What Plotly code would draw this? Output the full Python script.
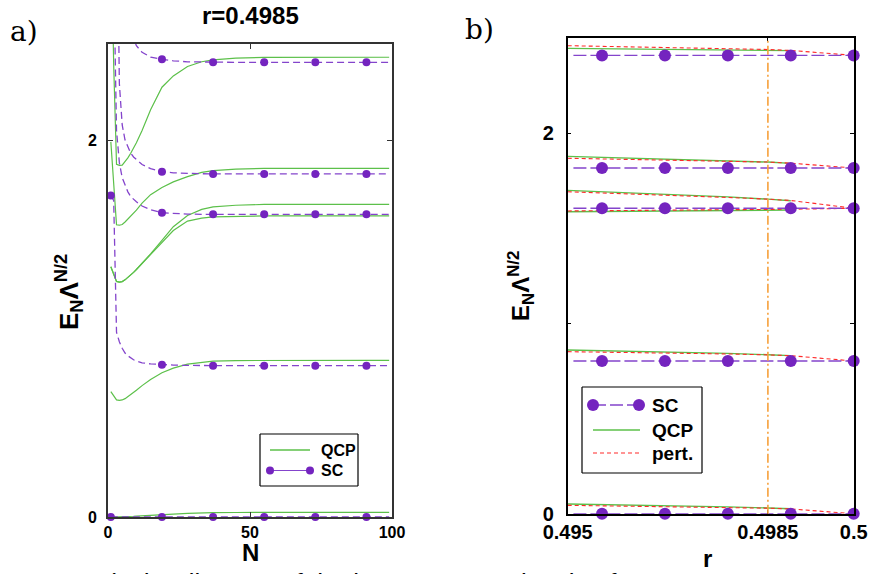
import plotly.graph_objects as go

W, H = 869, 574

# ---------------------------------------------------------------- data
r_c = 0.4985

# panel a: rescaled many-particle levels E_N Λ^{N/2} versus iteration N (r = r_c)
N_a = [1, 2, 3, 4, 5, 6, 7, 8, 9, 10, 12, 15, 19, 23, 28, 33, 37, 45, 55, 65, 73, 82, 91, 99]
N_marked = [1, 19, 37, 55, 73, 91]

sc_a0 = [0.000, 0.000, 0.000, 0.000, 0.000, 0.000, 0.000, 0.000, 0.000, 0.000, 0.000, 0.000,
         0.000, 0.000, 0.000, 0.000, 0.000, 0.000, 0.000, 0.000, 0.000, 0.000, 0.000, 0.000]
sc_a1 = [1.705, 1.680, 0.980, 0.930, 0.895, 0.870, 0.855, 0.843, 0.834, 0.827, 0.818, 0.812,
         0.808, 0.806, 0.804, 0.803, 0.803, 0.803, 0.803, 0.803, 0.803, 0.803, 0.803, 0.803]
sc_a2 = [5.000, 2.900, 2.050, 1.880, 1.800, 1.760, 1.725, 1.700, 1.685, 1.672, 1.650, 1.630,
         1.614, 1.610, 1.607, 1.606, 1.606, 1.606, 1.606, 1.606, 1.606, 1.606, 1.606, 1.606]
sc_a3 = [6.000, 5.000, 3.500, 2.300, 2.080, 2.000, 1.960, 1.930, 1.910, 1.895, 1.870, 1.848,
         1.832, 1.826, 1.822, 1.821, 1.820, 1.820, 1.820, 1.820, 1.820, 1.820, 1.820, 1.820]
sc_a4 = [8.000, 7.000, 6.000, 5.000, 4.000, 3.500, 3.000, 2.620, 2.540, 2.500, 2.465, 2.440,
         2.428, 2.420, 2.415, 2.413, 2.412, 2.412, 2.412, 2.412, 2.412, 2.412, 2.412, 2.412]

qcp_a0 = [0.000, 0.000, 0.001, 0.001, 0.002, 0.002, 0.003, 0.003, 0.004, 0.005, 0.006, 0.008,
          0.011, 0.015, 0.019, 0.022, 0.023, 0.024, 0.025, 0.025, 0.025, 0.025, 0.025, 0.025]
qcp_a1 = [0.665, 0.640, 0.621, 0.619, 0.621, 0.628, 0.638, 0.648, 0.660, 0.672, 0.697, 0.730,
          0.765, 0.790, 0.811, 0.822, 0.827, 0.830, 0.831, 0.831, 0.831, 0.831, 0.831, 0.831]
qcp_a2 = [1.328, 1.290, 1.250, 1.246, 1.249, 1.258, 1.270, 1.284, 1.298, 1.313, 1.345, 1.392,
          1.455, 1.520, 1.570, 1.586, 1.592, 1.595, 1.597, 1.597, 1.597, 1.597, 1.597, 1.597]
qcp_a3 = [1.328, 1.290, 1.250, 1.246, 1.249, 1.258, 1.270, 1.284, 1.298, 1.313, 1.345, 1.396,
          1.468, 1.540, 1.600, 1.632, 1.645, 1.654, 1.658, 1.659, 1.659, 1.659, 1.659, 1.659]
qcp_a4 = [1.990, 1.770, 1.550, 1.548, 1.552, 1.565, 1.580, 1.595, 1.610, 1.628, 1.665, 1.710,
          1.748, 1.778, 1.806, 1.828, 1.838, 1.846, 1.849, 1.850, 1.850, 1.850, 1.850, 1.850]
qcp_a5 = [3.200, 2.400, 1.871, 1.866, 1.867, 1.885, 1.905, 1.930, 1.955, 1.985, 2.050, 2.160,
          2.280, 2.340, 2.390, 2.415, 2.425, 2.434, 2.438, 2.439, 2.439, 2.439, 2.439, 2.439]

# panel b: fixed-point levels versus r
r_sc = [0.4951, 0.4956, 0.4967, 0.4978, 0.4989, 0.5000]
r_marked = [0.4956, 0.4967, 0.4978, 0.4989, 0.5000]
sc_b0 = [0.000, 0.000, 0.000, 0.000, 0.000, 0.000]
sc_b1 = [0.803, 0.803, 0.803, 0.803, 0.803, 0.803]
sc_b2 = [1.606, 1.606, 1.606, 1.606, 1.606, 1.606]
sc_b3 = [1.818, 1.818, 1.818, 1.818, 1.818, 1.818]
sc_b4 = [2.410, 2.410, 2.410, 2.410, 2.410, 2.410]

r_qcp = [0.4950, 0.4967, 0.4978, 0.4985, 0.4989]
qcp_b0 = [0.051, 0.043, 0.036, 0.030, 0.026]
qcp_b1 = [0.861, 0.851, 0.843, 0.836, 0.831]
qcp_b2 = [1.588, 1.591, 1.594, 1.596, 1.597]
qcp_b3 = [1.700, 1.680, 1.666, 1.654, 1.646]
qcp_b4 = [1.879, 1.866, 1.858, 1.849, 1.842]
qcp_b5 = [2.447, 2.443, 2.440, 2.437, 2.435]

r_pert = [0.4950, 0.4967, 0.4978, 0.4985, 0.4989, 0.5000]
pert_b0 = [0.044, 0.038, 0.033, 0.029, 0.025, 0.000]
pert_b1 = [0.852, 0.846, 0.840, 0.835, 0.831, 0.803]
pert_b2 = [1.592, 1.595, 1.598, 1.600, 1.601, 1.606]
pert_b3 = [1.693, 1.676, 1.663, 1.654, 1.647, 1.606]
pert_b4 = [1.869, 1.861, 1.855, 1.849, 1.843, 1.818]
pert_b5 = [2.461, 2.452, 2.446, 2.441, 2.436, 2.410]

# ---------------------------------------------------------------- styles
GREEN = "#5cc04a"
PURPLE = "#7424bf"
PURPLE_LINE = "#8444cc"
RED = "#ff2a2a"
ORANGE = "#f7a03a"
FONT = "Liberation Sans"


def px(x):
    return x / W


def py(y):
    return 1 - y / H


fig = go.Figure()

# ---- panel a
for ys in [qcp_a0, qcp_a1, qcp_a2, qcp_a3, qcp_a4, qcp_a5]:
    fig.add_trace(go.Scatter(x=N_a, y=ys, mode="lines", xaxis="x", yaxis="y",
                             line=dict(color=GREEN, width=1.2), showlegend=False,
                             hoverinfo="skip"))
for ys in [sc_a0, sc_a1, sc_a2, sc_a3, sc_a4]:
    fig.add_trace(go.Scatter(x=N_a, y=ys, mode="lines", xaxis="x", yaxis="y",
                             line=dict(color=PURPLE_LINE, width=1.3, dash="7px,4px"),
                             showlegend=False, hoverinfo="skip"))
    mx = [n for n in N_a if n in N_marked]
    my = [v for n, v in zip(N_a, ys) if n in N_marked]
    fig.add_trace(go.Scatter(x=mx, y=my, mode="markers", xaxis="x", yaxis="y",
                             marker=dict(color=PURPLE, size=8), cliponaxis=False,
                             showlegend=False, hoverinfo="skip"))

# ---- panel b
fig.add_shape(type="line", xref="x2", yref="y2 domain", x0=r_c, x1=r_c, y0=0, y1=1,
              line=dict(color=ORANGE, width=1.6, dash="9px,3px,2px,3px"))
for ys in [qcp_b0, qcp_b1, qcp_b2, qcp_b3, qcp_b4, qcp_b5]:
    fig.add_trace(go.Scatter(x=r_qcp, y=ys, mode="lines", xaxis="x2", yaxis="y2",
                             line=dict(color=GREEN, width=1.4), showlegend=False,
                             hoverinfo="skip"))
for ys in [pert_b0, pert_b1, pert_b2, pert_b3, pert_b4, pert_b5]:
    fig.add_trace(go.Scatter(x=r_pert, y=ys, mode="lines", xaxis="x2", yaxis="y2",
                             line=dict(color=RED, width=1.1, dash="4px,3px"),
                             showlegend=False, hoverinfo="skip"))
for ys in [sc_b0, sc_b1, sc_b2, sc_b3, sc_b4]:
    fig.add_trace(go.Scatter(x=r_sc, y=ys, mode="lines", xaxis="x2", yaxis="y2",
                             line=dict(color=PURPLE_LINE, width=1.4, dash="13px,4px"),
                             showlegend=False, hoverinfo="skip"))
    mx = [r for r in r_sc if r in r_marked]
    my = [v for r, v in zip(r_sc, ys) if r in r_marked]
    fig.add_trace(go.Scatter(x=mx, y=my, mode="markers", xaxis="x2", yaxis="y2",
                             marker=dict(color=PURPLE, size=12), cliponaxis=False,
                             showlegend=False, hoverinfo="skip"))

# ---------------------------------------------------------------- axes
axis_common = dict(showgrid=False, zeroline=False, showline=True, mirror="ticks",
                   ticks="inside", automargin=False)

fig.update_layout(
    width=W, height=H,
    autosize=False,
    margin=dict(l=0, r=0, t=0, b=0, pad=0, autoexpand=False),
    paper_bgcolor="white", plot_bgcolor="white",
    font=dict(family=FONT, color="black"),
    xaxis=dict(domain=[px(108), px(392)], range=[0, 100], anchor="y",
               tickvals=[0, 50, 100], ticklen=5, linecolor="#333", linewidth=2,
               tickcolor="#333", tickfont=dict(size=16, weight="bold"),
               ticklabelstandoff=0, **axis_common),
    yaxis=dict(domain=[py(517), py(43.5)], range=[0, 2.512], anchor="x",
               tickvals=[0, 2], ticklen=5, linecolor="#333", linewidth=2,
               tickcolor="#333", tickfont=dict(size=16, weight="bold"),
               ticklabelstandoff=6, **axis_common),
    xaxis2=dict(domain=[px(567.7), px(853.7)], range=[0.495, 0.5], anchor="y2",
                tickvals=[0.495, r_c, 0.5], ticktext=["0.495", "0.4985", "0.5"],
                ticklen=4, linecolor="black", linewidth=1.5, tickcolor="black",
                tickfont=dict(size=20, weight="bold"), ticklabelstandoff=0,
                **axis_common),
    yaxis2=dict(domain=[py(513.7), py(37.7)], range=[0, 2.503], anchor="x2",
                tickvals=[0, 1, 2], ticktext=["0", "", "2"], ticklen=4,
                linecolor="black", linewidth=1.5, tickcolor="black",
                tickfont=dict(size=20, weight="bold"), ticklabelstandoff=8,
                **axis_common),
)

# ---------------------------------------------------------------- legends
shapes = []
annotations = []


def circle(cx, cy, r, color):
    shapes.append(dict(type="circle", xref="paper", yref="paper",
                       x0=px(cx - r), x1=px(cx + r), y0=py(cy + r), y1=py(cy - r),
                       fillcolor=color, line=dict(width=0)))


def seg(x0, x1, y, color, width, dash="solid"):
    shapes.append(dict(type="line", xref="paper", yref="paper",
                       x0=px(x0), x1=px(x1), y0=py(y), y1=py(y),
                       line=dict(color=color, width=width, dash=dash)))


def box(x0, x1, y0, y1):
    shapes.append(dict(type="rect", xref="paper", yref="paper",
                       x0=px(x0), x1=px(x1), y0=py(y1), y1=py(y0),
                       fillcolor="white", line=dict(width=0)))
    for (a, b, c, d) in [(x0, y0, x1, y0), (x0, y1, x1, y1), (x0, y0, x0, y1),
                         (x1, y0, x1, y1)]:
        shapes.append(dict(type="line", xref="paper", yref="paper",
                           x0=px(a), y0=py(b), x1=px(c), y1=py(d),
                           line=dict(color="black", width=1.2)))


def label(x, y, text, size, **kw):
    annotations.append(dict(xref="paper", yref="paper", x=px(x), y=py(y), text=text,
                            showarrow=False, font=dict(size=size, family=FONT,
                                                       weight="bold", color="black"),
                            **kw))


# legend of panel a
box(260, 358, 434, 486)
seg(270, 310, 450, GREEN, 1.4)
seg(270, 310, 470.5, PURPLE_LINE, 1.2)
circle(270, 470.5, 4, PURPLE)
circle(310, 470.5, 4, PURPLE)
label(319, 450, "QCP", 16, xanchor="left", yanchor="middle")
label(319, 470.5, "SC", 16, xanchor="left", yanchor="middle")

# legend of panel b
box(582, 702, 387, 473)
seg(593, 639, 405, PURPLE_LINE, 1.4, "13px,4px")
circle(593, 405, 6, PURPLE)
circle(639, 405, 6, PURPLE)
seg(593, 640, 430, GREEN, 1.4)
seg(593, 640, 453, RED, 1.1, "4px,3px")
label(650, 405, "SC", 19, xanchor="left", yanchor="middle")
label(650, 430, "QCP", 19, xanchor="left", yanchor="middle")
label(650, 453, "pert.", 19, xanchor="left", yanchor="middle")

# titles and axis labels
label(250, 15, "r=%.4f" % r_c, 24, xanchor="center", yanchor="middle")
label(250, 552, "N", 24, xanchor="center", yanchor="middle")
label(707, 558, "r", 24, xanchor="center", yanchor="middle")
label(69, 292, "E<sub>N</sub>Λ<sup>N/2</sup>", 26, xanchor="center", yanchor="middle",
      textangle=-90)
label(521, 286, "E<sub>N</sub>Λ<sup>N/2</sup>", 24, xanchor="center", yanchor="middle",
      textangle=-90)

# panel tags
annotations.append(dict(xref="paper", yref="paper", x=px(24), y=py(31), text="a)",
                        showarrow=False, xanchor="center", yanchor="middle",
                        font=dict(size=28, family="DejaVu Serif", color="black")))
annotations.append(dict(xref="paper", yref="paper", x=px(480), y=py(29), text="b)",
                        showarrow=False, xanchor="center", yanchor="middle",
                        font=dict(size=28, family="DejaVu Serif", color="black")))

# caption line running off the bottom edge
annotations.append(dict(xref="paper", yref="paper", x=px(4), y=py(566), yanchor="top",
                        xanchor="left", showarrow=False,
                        text="e 4.11 . a) The diagram of the lowest energy levels of",
                        font=dict(size=26, family=FONT, color="black")))

fig.update_layout(shapes=shapes, annotations=annotations)

fig.write_html("out.html")
